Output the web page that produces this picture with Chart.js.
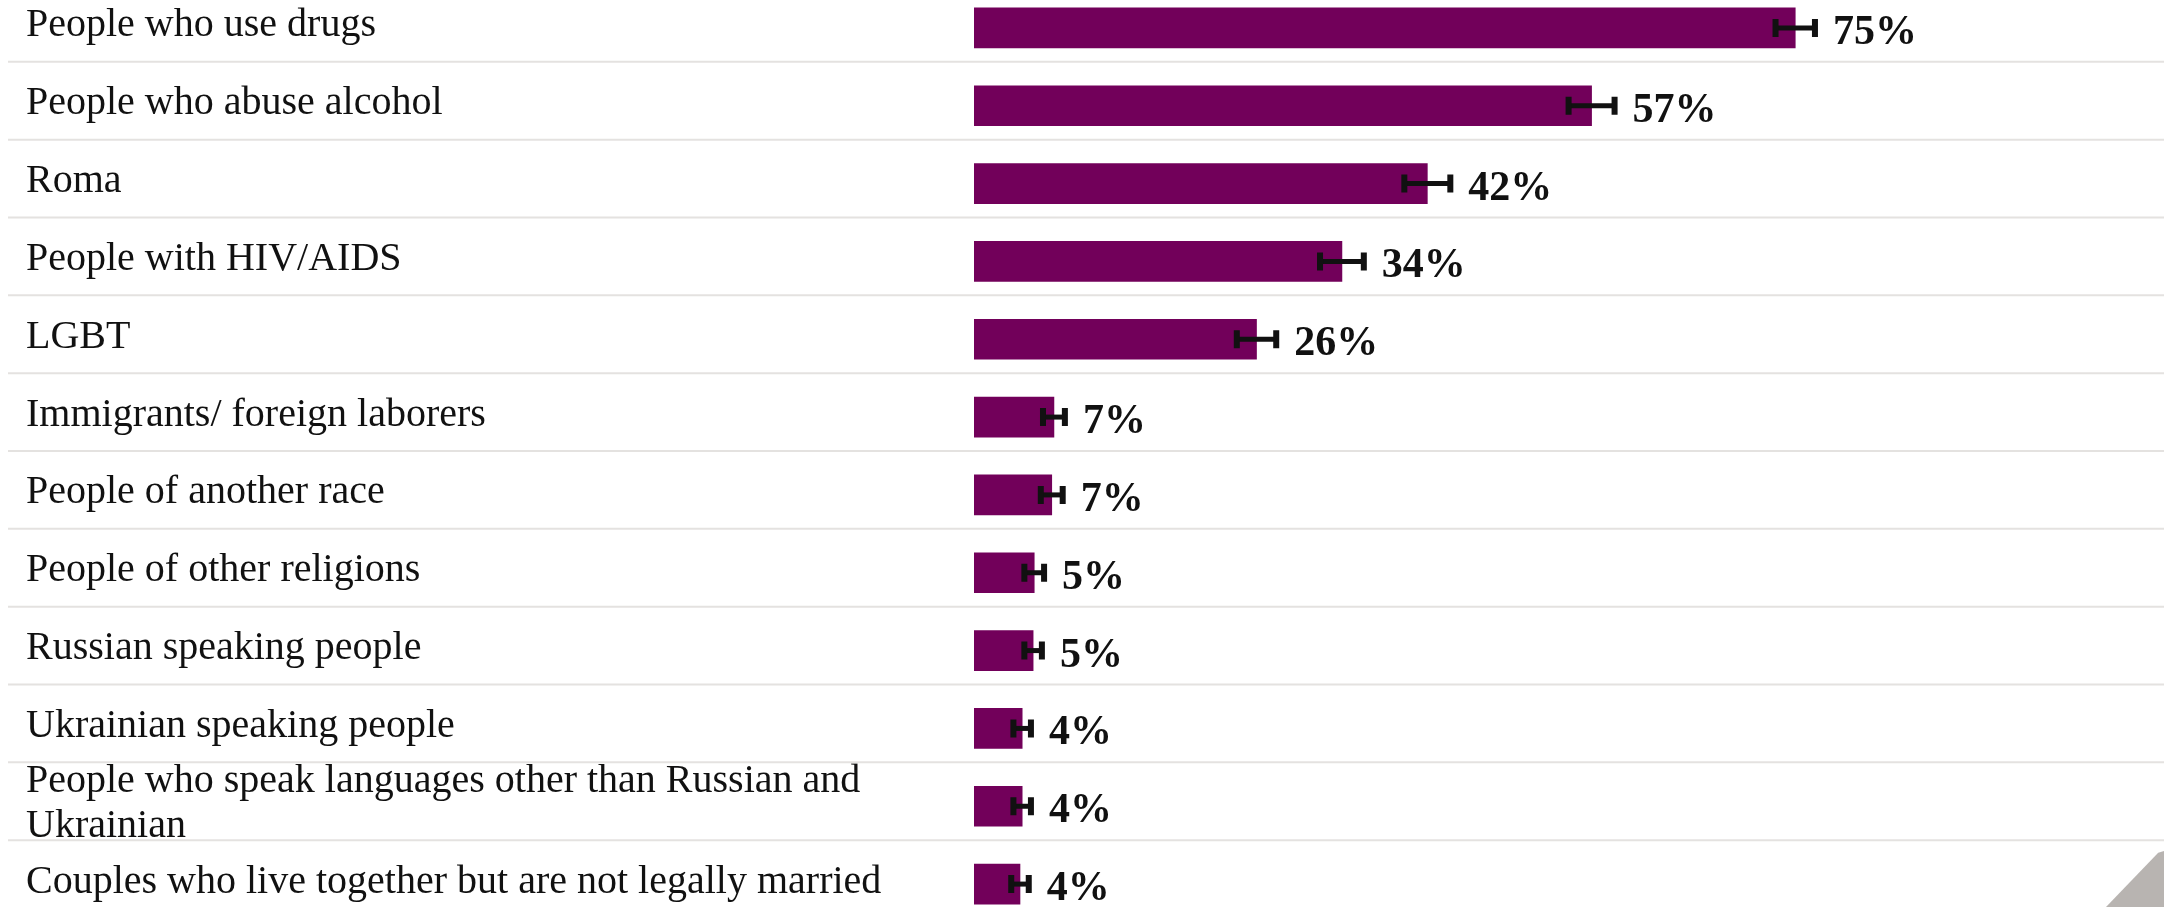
<!DOCTYPE html>
<html>
<head>
<meta charset="utf-8">
<script src="https://cdn.jsdelivr.net/npm/chart.js@4.4.1/dist/chart.umd.min.js"></script>
<style>
html, body { margin: 0; padding: 0; background: #fff; overflow: hidden; }
body { width: 2164px; height: 907px; position: relative; }
#wrap { position: absolute; left: 0; top: -11px; width: 2164px; height: 934px; }
#corner { position: absolute; right: 0; bottom: 0; width: 58px; height: 56px; background: #b8b4b1;
  clip-path: polygon(0 100%, 90% 3%, 100% 0, 100% 100%); }
</style>
</head>
<body>
<div id="wrap"><canvas id="chart"></canvas></div>
<div id="corner"></div>
<script>
// groups people would not want as neighbours
var groups = [
    'People who use drugs',
    'People who abuse alcohol',
    'Roma',
    'People with HIV/AIDS',
    'LGBT',
    'Immigrants/ foreign laborers',
    'People of another race',
    'People of other religions',
    'Russian speaking people',
    'Ukrainian speaking people',
    ['People who speak languages other than Russian and', 'Ukrainian'],
    'Couples who live together but are not legally married'
];
var shares = [75.0, 56.4, 41.4, 33.6, 25.8, 7.3, 7.1, 5.5, 5.4, 4.4, 4.4, 4.2];
var margins = [1.8, 2.1, 2.1, 2.0, 1.8, 1.0, 1.0, 0.9, 0.8, 0.8, 0.8, 0.8];
var shareLabels = ['75%', '57%', '42%', '34%', '26%', '7%', '7%', '5%', '5%', '4%', '4%', '4%'];

// lines between the rows
var rowLines = {
    id: 'rowLines',
    beforeDatasetsDraw: function(chart) {
        var ys = chart.scales.y, ctx = chart.ctx;
        ctx.save();
        ctx.strokeStyle = '#e4e2e0';
        ctx.lineWidth = 2;
        for (var i = 0; i < groups.length - 1; i++) {
            var y = (ys.getPixelForValue(i) + ys.getPixelForValue(i + 1)) / 2 - 5;
            ctx.beginPath();
            ctx.moveTo(8, y);
            ctx.lineTo(chart.width, y);
            ctx.stroke();
        }
        ctx.restore();
    }
};

// error bars and the % labels
var errorBars = {
    id: 'errorBars',
    afterDatasetsDraw: function(chart) {
        var ctx = chart.ctx, xs = chart.scales.x;
        var meta = chart.getDatasetMeta(0);
        ctx.save();
        meta.data.forEach(function(bar, i) {
            var lo = xs.getPixelForValue(shares[i] - margins[i]);
            var hi = xs.getPixelForValue(shares[i] + margins[i]);
            var y = bar.y;
            ctx.strokeStyle = '#111';
            ctx.lineWidth = 5;
            ctx.beginPath();
            ctx.moveTo(lo, y);
            ctx.lineTo(hi, y);
            ctx.stroke();
            ctx.lineWidth = 6;
            ctx.beginPath();
            ctx.moveTo(lo, y - 9); ctx.lineTo(lo, y + 9);
            ctx.moveTo(hi, y - 9); ctx.lineTo(hi, y + 9);
            ctx.stroke();
            ctx.fillStyle = '#111';
            ctx.font = 'bold 42px "Liberation Serif"';
            ctx.textAlign = 'left';
            ctx.textBaseline = 'alphabetic';
            ctx.fillText(shareLabels[i], hi + 18, y + 16);
        });
        ctx.restore();
    }
};

var ctx = document.getElementById('chart').getContext('2d');
var chart = new Chart(ctx, {
    type: 'bar',
    data: {
        labels: groups,
        datasets: [{
            data: shares,
            backgroundColor: '#72005a',
            barThickness: 40
        }]
    },
    options: {
        indexAxis: 'y',
        responsive: true,
        maintainAspectRatio: false,
        animation: false,
        layout: { padding: { left: 26, right: 95, top: 0, bottom: 0 } },
        plugins: {
            legend: { display: false },
            tooltip: { enabled: false }
        },
        scales: {
            x: {
                display: false,
                min: 0,
                max: 100
            },
            y: {
                grid: { display: false },
                border: { display: false },
                ticks: {
                    autoSkip: false,
                    crossAlign: 'far',
                    padding: 0,
                    labelOffset: -2,
                    color: '#111',
                    font: { family: '"Liberation Serif"', size: 40, lineHeight: 1.125 }
                },
                afterFit: function(axis) {
                    axis.width = 948;
                    axis.paddingTop = 0;
                    axis.paddingBottom = 0;
                }
            }
        }
    },
    plugins: [rowLines, errorBars]
});
</script>
</body>
</html>
